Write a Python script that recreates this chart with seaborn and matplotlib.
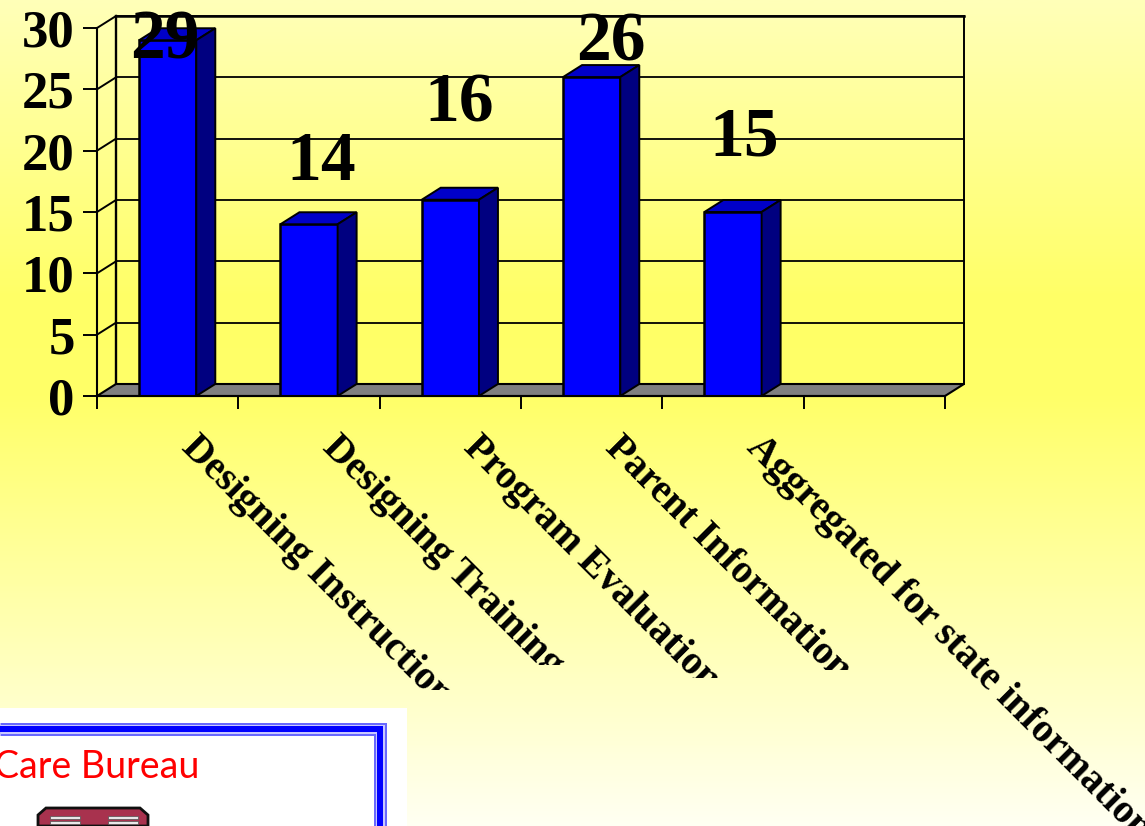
import numpy as np
import pandas as pd
import seaborn as sns
import matplotlib
matplotlib.use("Agg")
import matplotlib.pyplot as plt
from matplotlib.colors import LinearSegmentedColormap
from matplotlib.patches import Polygon, Rectangle
from matplotlib.transforms import IdentityTransform, ScaledTranslation

categories = ["Designing Instruction", "Designing Training", "Program Evaluation",
              "Parent Information", "Aggregated for state information"]
values = [29, 14, 16, 26, 15]
y_ticks = [0, 5, 10, 15, 20, 25, 30]

W, H = 1145, 826
DPI = 100
BAR_BLUE = "#0000FF"
SIDE_BLUE = "#000080"
TOP_BLUE = "#0000C8"
FLOOR = "#808080"
# offsets of the value labels from the bar's top-centre, pixels
label_dx = [-3, 12, 9, 19, 11]
label_dy = [-18, 44, 78, 17, 57]
# lowest visible pixel row of each rotated category label
label_clip = [690, 665, 678, 670, 900]

sns.set_theme(style="white")
plt.rcParams["font.family"] = ["Liberation Serif", "DejaVu Serif"]
plt.rcParams["font.weight"] = "bold"

fig = plt.figure(figsize=(W / DPI, H / DPI), dpi=DPI)

# background gradient + logo layer, in pixel coordinates
bg = fig.add_axes([0, 0, 1, 1], zorder=0)
cmap = LinearSegmentedColormap.from_list(
    "bg", [(0, "#FFFFB8"), (0.36, "#FFFF66"), (0.48, "#FFFF68"), (1, "#FFFFF2")])
bg.imshow(np.linspace(0, 1, 400)[:, None], cmap=cmap, aspect="auto",
          extent=[0, W, H, 0], vmin=0, vmax=1)
bg.set_xlim(0, W)
bg.set_ylim(H, 0)
bg.axis("off")

bg.add_patch(Rectangle((0, 708), 407, 118, fc="white", ec="none"))
for w, c in [(13, "#6868FF"), (9, "#C8C8FF"), (6, "#0000FF")]:
    bg.plot([0, 380, 380], [729, 729, 826], color=c, lw=w * 72 / DPI,
            solid_joinstyle="miter", solid_capstyle="butt")
bg.text(-6, 778, "Care Bureau", color="#FF0000", fontsize=27, fontweight="normal",
        family="Lato", ha="left", va="baseline")
bg.add_patch(Polygon([(38, 826), (38, 815), (46, 808), (140, 808), (148, 815), (148, 826)],
                     fc="#A8324E", ec="#101010", lw=2))
for y in (816, 821):
    bg.add_patch(Rectangle((50, y), 30, 3, fc="#E8E8E8", ec="#505050", lw=0.5))
    bg.add_patch(Rectangle((108, y), 30, 3, fc="#E8E8E8", ec="#505050", lw=0.5))

# main chart: front plane of the 3-D box
L, R, B, T = 97, 945, 396, 28
ax = fig.add_axes([L / W, (H - B) / H, (R - L) / W, (B - T) / H], zorder=1)
ax.patch.set_alpha(0)
df = pd.DataFrame({"category": categories, "value": values})
order = categories + [""]
sns.barplot(data=df, x="category", y="value", order=order, color=BAR_BLUE, saturation=1,
            width=0.405, edgecolor="black", linewidth=1.8, ax=ax, zorder=5)
ax.set_xlim(-0.5, 5.5)
ax.set_ylim(0, 30)
ax.set_xlabel("")
ax.set_ylabel("")

dx = 19 * 6 / (R - L)
dy = 12 * 30 / (B - T)
x0, x1 = -0.5, 5.5
kw = dict(color="black", clip_on=False, solid_capstyle="projecting")

# back wall, side wall and floor
for t in y_ticks[1:]:
    ax.plot([x0 + dx, x1 + dx], [t + dy, t + dy], lw=1.3, zorder=2, **kw)
    ax.plot([x0, x0 + dx], [t, t + dy], lw=1.4, zorder=2, **kw)
ax.plot([x0 + dx, x0 + dx], [dy, 30 + dy], lw=1.7, zorder=2, **kw)
ax.plot([x1 + dx, x1 + dx], [dy, 30 + dy], lw=1.4, zorder=2, **kw)
ax.plot([x0 + dx, x1 + dx], [30 + dy, 30 + dy], lw=1.8, zorder=2, **kw)
ax.add_patch(Polygon([(x0, 0), (x1, 0), (x1 + dx, dy), (x0 + dx, dy)], closed=True,
                     fc=FLOOR, ec="black", lw=1.5, clip_on=False, zorder=3))

# depth faces of each bar, value labels
half = 0.2025
for i, v in enumerate(values):
    a, b = i - half, i + half
    ax.add_patch(Polygon([(a, v), (b, v), (b + dx, v + dy), (a + dx, v + dy)], closed=True,
                         fc=TOP_BLUE, ec="black", lw=1.4, clip_on=False, zorder=5))
    ax.add_patch(Polygon([(b, 0), (b + dx, dy), (b + dx, v + dy), (b, v)], closed=True,
                         fc=SIDE_BLUE, ec="black", lw=1.4, clip_on=False, zorder=5))
    ax.annotate(str(v), (i, v), xytext=(label_dx[i] * 72 / DPI, label_dy[i] * 72 / DPI),
                textcoords="offset points", ha="center", va="baseline",
                fontsize=50, fontweight="bold", color="black", zorder=8,
                annotation_clip=False)

# axes
sns.despine(ax=ax, top=True, right=True)
for s in ("left", "bottom"):
    ax.spines[s].set_color("black")
    ax.spines[s].set_linewidth(1.5)
    ax.spines[s].set_zorder(6)
ax.set_yticks(y_ticks)
ax.tick_params(axis="y", length=10, width=1.4, color="black", labelsize=38, pad=6,
               labelcolor="black", left=True)
ax.set_xticks(np.arange(x0, x1 + 0.5), minor=True)
ax.tick_params(axis="x", which="minor", length=9, width=1.4, color="black", bottom=True)
ax.tick_params(axis="x", which="major", length=0, pad=33, labelsize=28.5, labelcolor="black")
shift = ScaledTranslation(19 / DPI, 0, fig.dpi_scale_trans)
for i, lab in enumerate(ax.get_xticklabels()):
    lab.set_rotation(-45)
    lab.set_rotation_mode("anchor")
    lab.set_ha("left")
    lab.set_va("center")
    lab.set_fontweight("bold")
    lab.set_transform(lab.get_transform() + shift)
    if i < len(label_clip):
        lab.set_clip_path(Rectangle((0, H - label_clip[i]), W, label_clip[i],
                                    transform=IdentityTransform()))
        lab.set_clip_on(True)
for lab in ax.get_yticklabels():
    lab.set_fontweight("bold")

fig.savefig("out.png", dpi=DPI)
